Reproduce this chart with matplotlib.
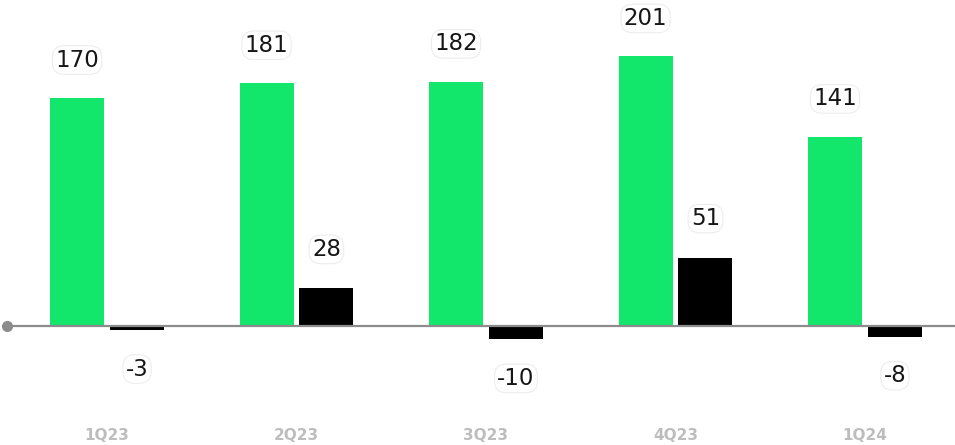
import matplotlib.pyplot as plt
import numpy as np

quarters = ['1Q23', '2Q23', '3Q23', '4Q23', '1Q24']
green_vals = [170, 181, 182, 201, 141]
black_vals = [-3, 28, -10, 51, -8]

GREEN = '#12e66b'
px_per_unit = 1.342

fig = plt.figure(figsize=(9.55, 4.45), dpi=100)
ax = fig.add_axes([0, 0, 1, 1])
ax.set_xlim(-0.5646, 4.475)
ax.set_ylim(-119 / px_per_unit, 326 / px_per_unit)
ax.axis('off')

x = np.arange(len(quarters))
w = 0.285
off = 0.158

ax.bar(x - off, green_vals, w, color=GREEN, zorder=2)
ax.bar(x + off, black_vals, w, color='black', zorder=2)

# axis line with dot at the start
x0 = -0.5646 + 7 / 189.5
ax.plot([x0, 4.475], [0, 0], color='#8c8c8c', lw=1.6, zorder=3)
ax.plot([x0], [0], 'o', color='#8c8c8c', ms=7, zorder=4)

lab_off = 39 / px_per_unit
box = dict(boxstyle='round,pad=0.12,rounding_size=0.5', fc='white', ec='#ededed', lw=0.8)
for i in range(len(quarters)):
    ax.text(x[i] - off, green_vals[i] + lab_off * 0.97, str(green_vals[i]),
            ha='center', va='center', fontsize=16.5, color='#161616', bbox=box, zorder=5)
    b = black_vals[i]
    yb = b + lab_off if b >= 0 else b - lab_off
    ax.text(x[i] + off, yb, str(b), ha='center', va='center', fontsize=16.5,
            color='#161616', bbox=box, zorder=5)
    ax.text(x[i], -109 / px_per_unit, quarters[i], ha='center', va='center',
            fontsize=11, fontweight='bold', color='#bdbdbd')

fig.savefig('out.png', dpi=100)
